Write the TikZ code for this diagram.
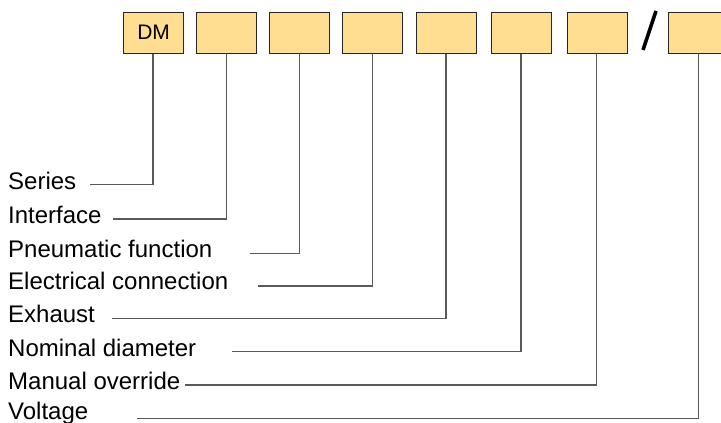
\documentclass[tikz,border=0pt]{standalone}
\usepackage{fontspec}
\setmainfont{Liberation Sans}
\begin{document}
\begin{tikzpicture}[x=1pt,y=-1pt,
  codebox/.style={draw=black!85, fill=boxfill, line width=1.2pt, minimum width=60pt, minimum height=41pt, inner sep=0pt, anchor=north west},
  lbl/.style={anchor=base west, inner sep=0pt, font=\fontsize{24}{26}\selectfont},
  conn/.style={draw=black!65, line width=1.4pt}]
\definecolor{boxfill}{HTML}{FFDE91}
\useasboundingbox (0,0) rectangle (721,423);
% boxes
\node[codebox, font=\fontsize{21}{24}\selectfont] (b1) at (123,11.5) {DM};
\node[codebox] (b2) at (196,11.5) {};
\node[codebox] (b3) at (269,11.5) {};
\node[codebox] (b4) at (342,11.5) {};
\node[codebox] (b5) at (415.5,11.5) {};
\node[codebox] (b6) at (491,11.5) {};
\node[codebox] (b7) at (566.5,11.5) {};
\node[codebox, minimum width=53pt] (b8) at (668,11.5) {};
% slash
\coordinate (s1) at (656,11);
\coordinate (s2) at (643,50);
\draw[line width=3.6pt] (s1) -- (s2);
% labels
\node[lbl] (l1) at (8,189) {Series};
\node[lbl] (l2) at (8,223) {Interface};
\node[lbl] (l3) at (8,257) {Pneumatic function};
\node[lbl] (l4) at (8,289) {Electrical connection};
\node[lbl] (l5) at (8,322) {Exhaust};
\node[lbl] (l6) at (8,356) {Nominal diameter};
\node[lbl] (l7) at (8,389) {Manual override};
\node[lbl] (l8) at (8,419) {Voltage};
% connector ends
\coordinate (c1) at (90,184.5);
\coordinate (c2) at (113,219);
\coordinate (c3) at (250,253.5);
\coordinate (c4) at (258,286);
\coordinate (c5) at (112,318.5);
\coordinate (c6) at (232,351.5);
\coordinate (c7) at (185,385);
\coordinate (c8) at (137,418.5);
% connectors
\draw[conn] ([xshift=-0.5pt]b1.south) |- (c1);
\draw[conn] (b2.south) |- (c2);
\draw[conn] (b3.south) |- (c3);
\draw[conn] (b4.south) |- (c4);
\draw[conn] (b5.south) |- (c5);
\draw[conn] ([xshift=-0.5pt]b6.south) |- (c6);
\draw[conn] ([xshift=-0.5pt]b7.south) |- (c7);
\draw[conn] ([xshift=3.5pt]b8.south) |- (c8);
\end{tikzpicture}
\end{document}
